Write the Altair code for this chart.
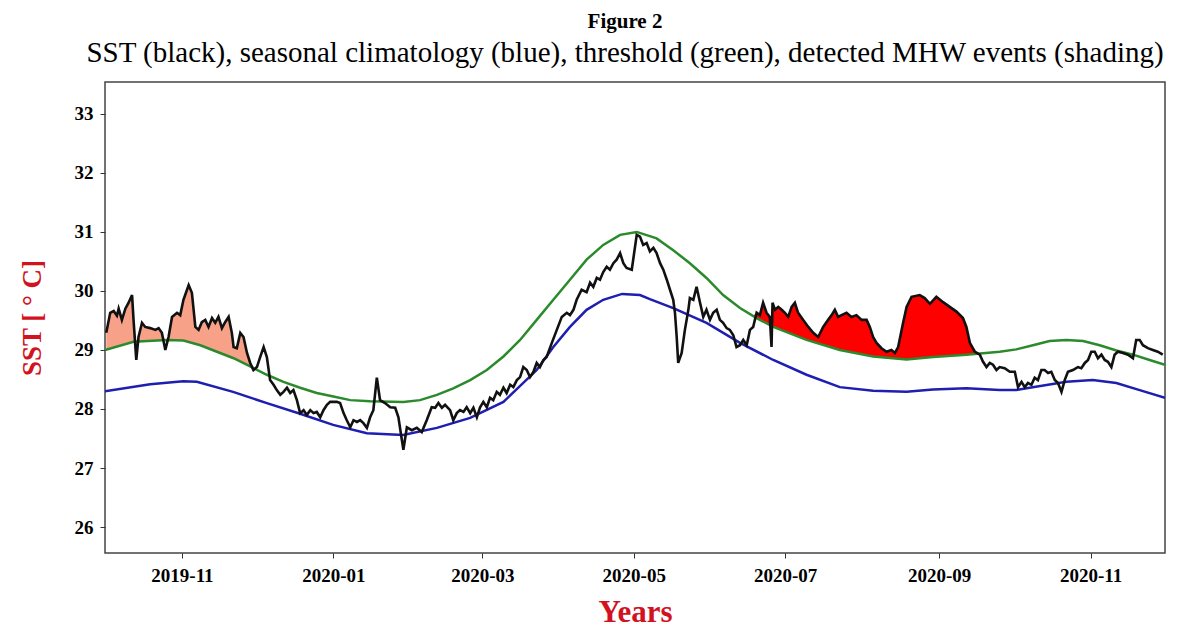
import altair as alt
import numpy as np
import pandas as pd

# Time is given as days since 2019-10-01
START = pd.Timestamp("2019-10-01")

# SST (black line): (day, degC)
sst_oct_dec = [
    (0.5, 29.29), (2.1, 29.63), (3.5, 29.66), (4.8, 29.58), (5.5, 29.70), (6.8, 29.51),
    (8.2, 29.70), (9.5, 29.80), (10.9, 29.93), (11.5, 29.51), (12.6, 28.83), (13.5, 29.22),
    (14.9, 29.46), (16.2, 29.39), (18.2, 29.37), (20.3, 29.34), (21.6, 29.37), (22.9, 29.29),
    (24.3, 29.00), (25.6, 29.22), (27.0, 29.56), (29.0, 29.63), (30.3, 29.59), (31.6, 29.85),
    (33.7, 30.10), (35.0, 29.97), (36.4, 29.39), (37.7, 29.34), (39.0, 29.47), (40.4, 29.51),
    (41.7, 29.39), (43.1, 29.54), (44.4, 29.46), (45.7, 29.56), (47.1, 29.37), (48.4, 29.47),
    (49.8, 29.56), (51.1, 29.29), (51.8, 29.05), (53.1, 29.03), (54.5, 29.29), (55.8, 29.22),
    (57.2, 28.95), (58.5, 28.78), (59.8, 28.66), (61.2, 28.71), (62.5, 28.88), (63.9, 29.05),
    (65.2, 28.88), (66.5, 28.49), (67.9, 28.41), (69.2, 28.32), (70.6, 28.24), (71.9, 28.29),
    (73.3, 28.36), (74.6, 28.27), (75.9, 28.32), (77.3, 28.15), (78.6, 27.93), (80.0, 27.98),
    (81.3, 27.90), (82.7, 27.98), (84.0, 27.93), (85.3, 27.95), (86.7, 27.86), (88.0, 27.98),
    (89.4, 28.07), (90.7, 28.12),
]
sst_jan_mar = [
    (93.4, 28.12), (94.7, 28.10), (96.1, 27.93), (97.4, 27.81), (98.8, 27.69), (100.1, 27.81),
    (101.5, 27.78), (102.8, 27.81), (104.1, 27.76), (105.5, 27.68), (106.8, 27.86), (108.1, 27.98),
    (109.5, 28.53), (110.8, 28.15), (112.8, 28.10), (114.9, 28.03), (116.9, 28.02), (118.2, 27.86),
    (119.6, 27.47), (120.2, 27.31), (121.6, 27.69), (123.6, 27.64), (125.6, 27.68), (127.6, 27.61),
    (129.6, 27.81), (131.6, 28.03), (133.0, 28.02), (134.3, 28.10), (135.7, 28.02), (137.0, 28.07),
    (139.0, 27.98), (140.3, 27.81), (141.7, 27.93), (143.0, 27.98), (144.4, 27.95), (145.7, 28.03),
    (147.1, 27.93), (148.4, 28.02), (149.8, 27.86), (151.1, 28.03), (152.4, 28.12), (153.8, 28.03),
    (155.1, 28.19), (156.4, 28.15), (157.8, 28.29), (159.1, 28.24), (160.5, 28.36), (161.8, 28.27),
    (163.2, 28.41), (164.5, 28.37), (165.9, 28.49), (167.2, 28.54), (168.5, 28.71), (169.9, 28.66),
    (171.2, 28.54), (172.6, 28.63), (173.9, 28.78), (175.2, 28.71), (176.6, 28.83), (177.9, 28.88),
    (180.0, 29.12), (182.0, 29.34),
]
sst_apr_jun = [
    (184.0, 29.56), (186.0, 29.63), (187.3, 29.59), (188.7, 29.68), (190.0, 29.85), (192.0, 30.02),
    (194.0, 29.98), (195.4, 30.14), (196.7, 30.07), (198.1, 30.22), (199.4, 30.19), (200.7, 30.32),
    (202.1, 30.41), (203.4, 30.36), (204.8, 30.47), (206.1, 30.53), (207.5, 30.64), (208.8, 30.47),
    (210.1, 30.39), (212.2, 30.36), (214.2, 30.95), (215.5, 30.92), (216.8, 30.78), (218.2, 30.81),
    (219.5, 30.67), (220.9, 30.73), (222.2, 30.64), (223.6, 30.47), (224.9, 30.36), (226.3, 30.19),
    (227.6, 30.02), (228.9, 29.85), (229.6, 29.63), (230.3, 29.22), (230.9, 28.78), (232.3, 28.95),
    (233.6, 29.34), (235.0, 29.68), (235.6, 29.88), (237.0, 29.85), (238.3, 30.07), (239.7, 29.80),
    (241.0, 29.56), (242.3, 29.68), (243.7, 29.51), (245.0, 29.63), (246.4, 29.68), (247.7, 29.51),
    (249.0, 29.46), (250.4, 29.37), (251.7, 29.34), (253.1, 29.25), (254.4, 29.05), (255.8, 29.08),
    (257.1, 29.17), (258.5, 29.08), (259.8, 29.34), (261.1, 29.39), (262.5, 29.63), (263.8, 29.59),
    (265.1, 29.80), (266.5, 29.63), (267.8, 29.56), (268.5, 29.05), (268.9, 29.80), (269.9, 29.68),
    (271.2, 29.73), (272.6, 29.68), (273.9, 29.63), (275.2, 29.56),
]
sst_jul_nov = [
    (276.6, 29.73), (277.9, 29.80), (279.2, 29.63), (281.2, 29.51), (283.3, 29.39), (285.3, 29.29),
    (287.3, 29.22), (289.3, 29.39), (291.3, 29.51), (292.7, 29.59), (294.0, 29.68), (295.3, 29.56),
    (296.7, 29.59), (298.7, 29.63), (300.7, 29.56), (302.7, 29.59), (304.8, 29.51), (306.8, 29.51),
    (308.1, 29.39), (309.4, 29.22), (310.8, 29.12), (312.8, 29.03), (314.8, 28.97), (316.8, 29.00),
    (318.2, 28.95), (319.5, 29.05), (321.5, 29.46), (322.9, 29.73), (324.9, 29.90), (328.2, 29.93),
    (330.2, 29.88), (332.3, 29.78), (334.9, 29.90), (337.6, 29.81), (340.3, 29.73), (343.0, 29.65),
    (345.6, 29.54), (347.0, 29.39), (348.4, 29.12), (350.4, 28.97), (352.4, 28.92), (353.7, 28.80),
    (355.1, 28.71), (356.4, 28.78), (357.7, 28.75), (359.1, 28.66), (360.4, 28.71), (362.4, 28.69),
    (364.5, 28.63), (366.5, 28.63), (367.8, 28.37), (369.2, 28.46), (370.5, 28.37), (371.8, 28.44),
    (373.2, 28.41), (374.5, 28.53), (375.8, 28.49), (377.2, 28.66), (378.5, 28.66), (379.9, 28.61),
    (381.2, 28.63), (382.6, 28.49), (383.9, 28.44), (385.3, 28.29), (386.6, 28.49), (387.9, 28.63),
    (389.9, 28.66), (391.9, 28.71), (393.3, 28.69), (394.7, 28.78), (396.0, 28.83), (397.3, 28.97),
    (398.7, 28.97), (400.0, 28.86), (401.4, 28.92), (402.7, 28.83), (404.0, 28.80), (405.4, 28.71),
    (406.7, 28.92), (408.0, 28.97), (410.1, 28.95), (412.1, 28.92), (414.1, 28.86), (415.4, 29.17),
    (416.8, 29.17), (418.1, 29.08), (420.1, 29.03), (422.1, 29.00), (424.1, 28.97), (426.1, 28.92),
]

# Seasonal climatology (blue)
clim_t = [0, 18.2, 31.5, 37.0, 51.6, 65.2, 78.6, 91.9, 105.5, 120.1, 133.7, 147.1, 160.5,
          173.9, 180.6, 187.3, 194.0, 200.7, 208.3, 215.5, 219.5, 228.9, 242.3, 255.8, 269.2,
          282.6, 296.0, 309.4, 322.9, 333.5, 347.0, 360.4, 367.1, 373.7, 387.3, 397.9, 407.4,
          416.8, 427.0]
clim_v = [28.30, 28.42, 28.47, 28.46, 28.29, 28.10, 27.92, 27.73, 27.59, 27.56, 27.68, 27.85,
          28.12, 28.66, 29.05, 29.39, 29.68, 29.85, 29.95, 29.93, 29.86, 29.71, 29.46, 29.12,
          28.83, 28.58, 28.37, 28.31, 28.29, 28.33, 28.35, 28.32, 28.32, 28.37, 28.46, 28.49,
          28.44, 28.32, 28.19]

# Threshold (green)
thr_t = [0, 11.5, 24.9, 31.6, 38.4, 45.1, 51.8, 58.5, 65.2, 71.9, 78.6, 85.3, 92.0, 98.8,
         106.8, 120.2, 126.9, 133.7, 140.3, 147.1, 153.8, 160.5, 167.2, 173.9, 180.6, 187.3,
         194.0, 200.7, 207.5, 214.2, 222.2, 228.9, 235.6, 242.3, 249.0, 255.8, 262.5, 269.2,
         282.6, 296.0, 309.4, 322.9, 333.6, 347.0, 360.4, 367.1, 373.8, 380.5, 387.3, 394.0,
         400.7, 407.4, 414.1, 420.8, 427.0]
thr_v = [29.00, 29.14, 29.17, 29.16, 29.08, 28.97, 28.86, 28.72, 28.58, 28.46, 28.36, 28.27,
         28.21, 28.15, 28.13, 28.12, 28.15, 28.24, 28.35, 28.49, 28.66, 28.89, 29.17, 29.51,
         29.85, 30.19, 30.53, 30.78, 30.95, 31.00, 30.89, 30.69, 30.47, 30.22, 29.93, 29.71,
         29.54, 29.39, 29.17, 29.00, 28.89, 28.84, 28.88, 28.92, 28.97, 29.01, 29.08, 29.15,
         29.17, 29.15, 29.08, 28.99, 28.92, 28.83, 28.75]

# Detected MHW events (days since 2019-10-01) and their shading
event_names = ["event 1", "event 2"]
event_start = [0.0, 261.0]
event_end = [60.0, 353.0]
event_colors = ["#f7a188", "#ff0000"]

year_ticks = ["2019-11", "2020-01", "2020-03", "2020-05", "2020-07", "2020-09", "2020-11"]
sst_ticks = [26, 27, 28, 29, 30, 31, 32, 33]

title_text = "Figure 2"
subtitle_text = ("SST (black), seasonal climatology (blue), threshold (green), "
                 "detected MHW events (shading)")


def to_date(t):
    return START + pd.to_timedelta(np.asarray(t, dtype=float), unit="D")


sst = pd.DataFrame(sst_oct_dec + sst_jan_mar + sst_apr_jun + sst_jul_nov, columns=["t", "sst"])
sst["date"] = to_date(sst["t"])
sst["thr"] = np.interp(sst["t"], thr_t, thr_v)
sst["top"] = np.maximum(sst["sst"], sst["thr"])

parts = []
for name, a, b in zip(event_names, event_start, event_end):
    sub = sst[(sst["t"] >= a) & (sst["t"] <= b)].copy()
    sub["event"] = name
    parts.append(sub)
events = pd.concat(parts)

clim = pd.DataFrame({"date": to_date(clim_t), "v": clim_v})
thr = pd.DataFrame({"date": to_date(thr_t), "v": thr_v})

x_scale = alt.Scale(domain=[alt.DateTime(year=2019, month=10, date=1),
                            alt.DateTime(year=2020, month=12, date=1)])
y_scale = alt.Scale(domain=[25.56, 33.54], nice=False, zero=False)

tick_vals = [alt.DateTime(year=int(s[:4]), month=int(s[5:]), date=1) for s in year_ticks]

x_enc = alt.X("date:T", scale=x_scale,
              axis=alt.Axis(values=tick_vals, format="%Y-%m", title="Years",
                            labelPadding=8, titlePadding=12, titleFontSize=31))
y_axis = alt.Axis(values=sst_ticks, format="d", title="SST [ \u00b0 C]", labelPadding=7,
                  titlePadding=28, titleFontSize=27)

area = alt.Chart(events).mark_area(opacity=1, clip=True).encode(
    x=x_enc,
    y=alt.Y("top:Q", scale=y_scale, axis=y_axis),
    y2="thr:Q",
    color=alt.Color("event:N", scale=alt.Scale(domain=event_names, range=event_colors),
                    legend=None),
    detail="event:N",
)

clim_line = alt.Chart(clim).mark_line(color="#1e1eb0", strokeWidth=2.5, clip=True).encode(
    x="date:T", y="v:Q")
thr_line = alt.Chart(thr).mark_line(color="#2b8a2b", strokeWidth=2.5, clip=True).encode(
    x="date:T", y="v:Q")
sst_line = alt.Chart(sst).mark_line(color="#111111", strokeWidth=2.6, clip=True).encode(
    x="date:T", y="sst:Q")

chart = alt.layer(area, clim_line, thr_line, sst_line).properties(
    width=1060,
    height=471,
    background="white",
    autosize=alt.AutoSizeParams(type="none"),
    padding={"left": 105, "top": 82, "right": 16, "bottom": 77},
    title=alt.TitleParams(
        text=title_text, subtitle=subtitle_text, anchor="middle", dx=-10,
        font="Liberation Serif", fontSize=21, fontWeight="bold", color="black",
        subtitleFont="Liberation Serif", subtitleFontSize=29, subtitleColor="black",
        subtitlePadding=7, offset=14,
    ),
).configure_view(
    stroke="#444444", strokeWidth=1.5
).configure_axis(
    labelFont="Liberation Serif", labelFontWeight="bold", labelFontSize=19, labelColor="black",
    titleFont="Liberation Serif", titleFontWeight="bold", titleColor="#d3121f",
    tickColor="#333333", tickSize=5, domain=False, grid=False,
)

chart.save("out.html", embed_options={"renderer": "svg", "actions": False})
